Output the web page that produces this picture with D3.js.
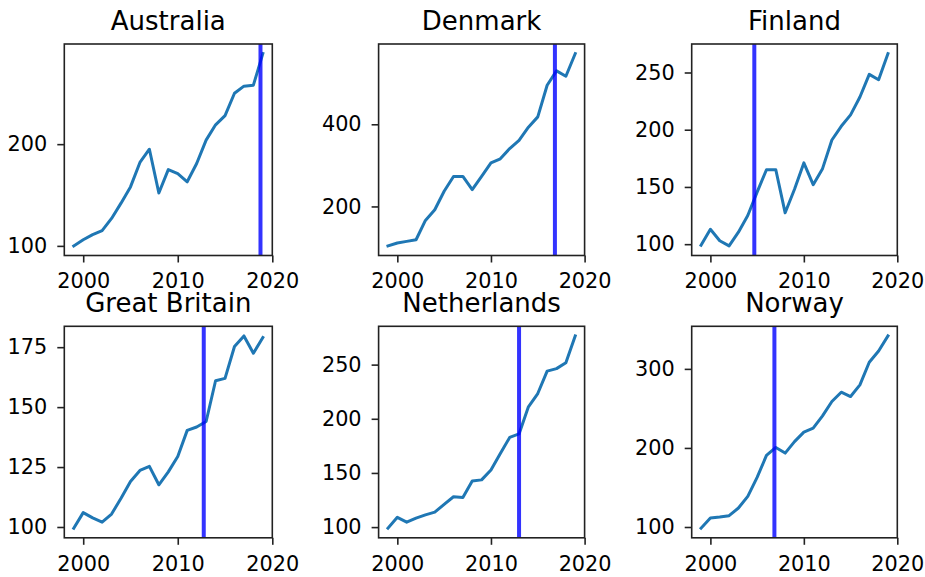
<!DOCTYPE html>
<html>
<head>
<meta charset="utf-8">
<script src="https://cdn.jsdelivr.net/npm/d3@7"></script>
<style>
  html, body { margin: 0; padding: 0; background: #fff; }
  svg { display: block; }
  text { font-family: "DejaVu Sans", sans-serif; fill: #000; }
</style>
</head>
<body>
<svg id="chart" width="925" height="577"></svg>
<script>
// ---- data ----
const years = d3.range(1999, 2020);
const countries = ["Australia", "Denmark", "Finland", "Great Britain", "Netherlands", "Norway"];

const australia = [100, 106, 111, 115, 127, 142, 158, 182, 195, 152, 175, 171, 163, 181, 204, 219, 228, 250, 257, 258, 289];
const denmark = [104, 111, 115, 119, 166, 192, 237, 273, 273, 241, 273, 306, 316, 341, 361, 393, 418, 495, 530, 517, 572];
const finland = [99, 113, 103, 98.5, 110.5, 125, 145.5, 165, 165, 127.4, 148, 171, 152, 166, 191, 203, 213, 228.6, 248.4, 243.7, 266.5];
const greatBritain = [99.5, 106, 103.8, 102, 105.4, 112, 119, 123.6, 125.3, 117.6, 123, 129.4, 140.3, 141.7, 144, 161, 162, 175.3, 179.7, 172.5, 179];
const netherlands = [99, 109, 104.6, 108.3, 111.3, 113.8, 121, 128, 127.3, 142.6, 143.6, 152.8, 168, 182.8, 186, 211, 223.3, 244, 246.3, 251.8, 276.5];
const norway = [98.5, 111.4, 112.6, 114.3, 124, 138.7, 162.7, 190.5, 200.6, 193.5, 208, 220, 225, 240.6, 258.7, 270.5, 265, 279.8, 308.4, 322.7, 341.7];

const seriesValues = [australia, denmark, finland, greatBritain, netherlands, norway];
const markerYears = [2018.75, 2016.83, 2004.7, 2012.75, 2013.0, 2006.85];

const xTicks = [2000, 2010, 2020];
const yTicks = [
  [100, 200],
  [200, 400],
  [100, 150, 200, 250],
  [100, 125, 150, 175],
  [100, 150, 200, 250],
  [100, 200, 300]
];

// ---- layout ----
const svg = d3.select("#chart");
const colLeft = [64.3, 378.6, 691.7];
const colWidth = [208, 206, 205.6];
const rowTop = [44, 326.3];
const rowHeight = 211.5;

const lineColor = "#1f77b4";
const tickFont = 20.8;
const titleFont = 26;

countries.forEach((name, i) => {
  const col = i % 3, row = Math.floor(i / 3);
  const x0 = colLeft[col], y0 = rowTop[row];
  const w = colWidth[col], h = rowHeight;
  const vals = seriesValues[i];

  const x = d3.scaleLinear().domain([1998, 2020]).range([0, w]);
  const ext = d3.extent(vals);
  const pad = (ext[1] - ext[0]) * 0.05;
  const y = d3.scaleLinear().domain([ext[0] - pad, ext[1] + pad]).range([h, 0]);

  const g = svg.append("g").attr("transform", `translate(${x0},${y0})`);

  // data line
  const clipId = "clip" + i;
  g.append("clipPath").attr("id", clipId)
    .append("rect").attr("width", w).attr("height", h);

  g.append("path")
    .datum(years.map((yr, k) => [yr, vals[k]]))
    .attr("clip-path", `url(#${clipId})`)
    .attr("fill", "none")
    .attr("stroke", lineColor)
    .attr("stroke-width", 3)
    .attr("stroke-linejoin", "round")
    .attr("stroke-linecap", "square")
    .attr("d", d3.line().x(d => x(d[0])).y(d => y(d[1])));

  // vertical marker
  g.append("line")
    .attr("x1", x(markerYears[i])).attr("x2", x(markerYears[i]))
    .attr("y1", 0).attr("y2", h)
    .attr("stroke", "#0000ff")
    .attr("stroke-opacity", 0.8)
    .attr("stroke-width", 4);

  // axes
  const xAxis = d3.axisBottom(x).tickValues(xTicks).tickFormat(d3.format("d")).tickSizeOuter(0).tickSize(7).tickPadding(11);
  const yAxis = d3.axisLeft(y).tickValues(yTicks[i]).tickFormat(d3.format("d")).tickSizeOuter(0).tickSize(7).tickPadding(10);

  const gx = g.append("g").attr("transform", `translate(0,${h})`).call(xAxis);
  const gy = g.append("g").call(yAxis);
  [gx, gy].forEach(a => {
    a.select(".domain").remove();
    a.selectAll(".tick line").attr("stroke", "#222").attr("stroke-width", 1.6);
    a.selectAll(".tick text")
      .attr("font-family", "DejaVu Sans, sans-serif")
      .attr("font-size", tickFont)
      .attr("fill", "#1a1a1a");
  });

  // frame
  g.append("rect")
    .attr("width", w).attr("height", h)
    .attr("fill", "none")
    .attr("stroke", "#222")
    .attr("stroke-width", 1.6);

  // title
  g.append("text")
    .attr("x", w / 2).attr("y", -14)
    .attr("text-anchor", "middle")
    .attr("font-size", titleFont)
    .attr("fill", "#1a1a1a")
    .text(name);
});
</script>
</body>
</html>
